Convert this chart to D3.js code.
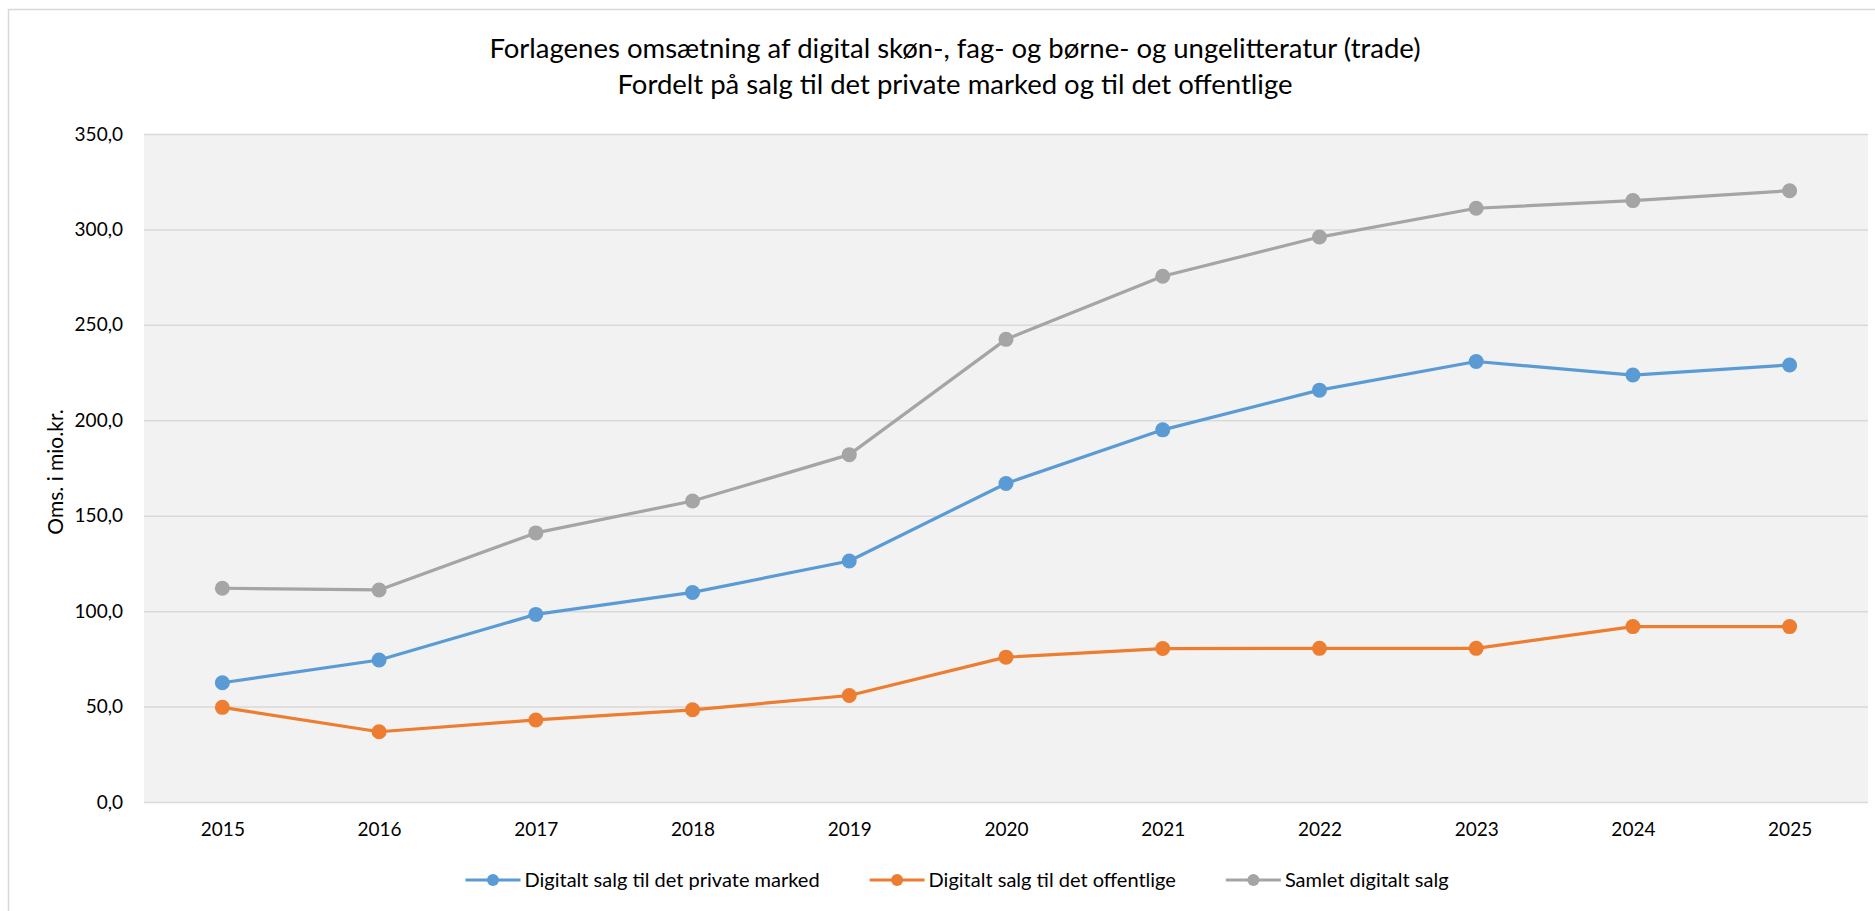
<!DOCTYPE html>
<html>
<head>
<meta charset="utf-8">
<script src="https://cdn.jsdelivr.net/npm/d3@7"></script>
<style>
  body { margin: 0; background: #ffffff; }
  svg { display: block; font-family: Lato, "Noto Sans", sans-serif; }
</style>
</head>
<body>
<svg id="chart" width="1875" height="911"></svg>
<script>
// Years on the category axis
const years = ["2015", "2016", "2017", "2018", "2019", "2020", "2021", "2022", "2023", "2024", "2025"];

// Turnover in mio. kr.
const privateSales = [62.5, 74.4, 98.3, 109.8, 126.3, 166.9, 195.0, 215.8, 230.8, 223.7, 229.0];
const publicSales  = [49.6, 36.8, 43.0, 48.3, 55.8, 75.9, 80.4, 80.5, 80.5, 91.9, 91.9];
const totalSales   = [112.0, 111.1, 141.0, 157.7, 182.0, 242.4, 275.5, 296.0, 311.1, 315.1, 320.3];

const yTicks = [0, 50, 100, 150, 200, 250, 300, 350];

const seriesNames  = ["Digitalt salg til det private marked", "Digitalt salg til det offentlige", "Samlet digitalt salg"];
const seriesValues = [privateSales, publicSales, totalSales];
const seriesColors = ["#5B9BD5", "#ED7D31", "#A5A5A5"];

const titleLines = [
  "Forlagenes omsætning af digital skøn-, fag- og børne- og ungelitteratur (trade)",
  "Fordelt på salg til det private marked og til det offentlige"
];
const yAxisTitle = "Oms. i mio.kr.";

// Layout
const W = 1875, H = 911;
const plot = { left: 144, right: 1868, top: 134, bottom: 802 };
const centerX = 955;

const svg = d3.select("#chart");

// Chart frame
svg.append("rect")
  .attr("x", 8.5).attr("y", 9.5)
  .attr("width", W + 20).attr("height", H + 20)
  .attr("fill", "#ffffff")
  .attr("stroke", "#D9D9D9").attr("stroke-width", 1.5);

// Plot background
svg.append("rect")
  .attr("x", plot.left).attr("y", plot.top)
  .attr("width", plot.right - plot.left).attr("height", plot.bottom - plot.top)
  .attr("fill", "#F2F2F2");

const x = d3.scalePoint().domain(years).range([plot.left, plot.right]).padding(0.5);
const y = d3.scaleLinear().domain([0, 350]).range([plot.bottom, plot.top]);

// Y axis with gridlines
const fmt = d => d3.format(".1f")(d).replace(".", ",");
const yAxis = svg.append("g")
  .attr("transform", `translate(${plot.left},0)`)
  .call(d3.axisLeft(y).tickValues(yTicks).tickFormat(fmt)
        .tickSize(-(plot.right - plot.left)).tickPadding(21));
yAxis.select(".domain").remove();
yAxis.selectAll(".tick line").attr("stroke", "#D9D9D9").attr("stroke-width", 1.5);
yAxis.selectAll(".tick text")
  .attr("fill", "#000000").style("font-size", "19px").style("font-family", "Lato, sans-serif");

// X axis labels
const xAxis = svg.append("g")
  .attr("transform", `translate(0,${plot.bottom})`)
  .call(d3.axisBottom(x).tickSize(0).tickPadding(21));
xAxis.select(".domain").remove();
xAxis.selectAll(".tick text")
  .attr("fill", "#000000").style("font-size", "19px").style("font-family", "Lato, sans-serif");

// Y axis title
svg.append("text")
  .attr("transform", `translate(63,${(plot.top + plot.bottom) / 2 + 4}) rotate(-90)`)
  .attr("text-anchor", "middle")
  .attr("fill", "#000000")
  .style("font-size", "21px")
  .text(yAxisTitle);

// Title
svg.append("text")
  .attr("x", centerX).attr("y", 58)
  .attr("text-anchor", "middle").attr("fill", "#000000")
  .style("font-size", "27.5px")
  .text(titleLines[0]);
svg.append("text")
  .attr("x", centerX).attr("y", 94)
  .attr("text-anchor", "middle").attr("fill", "#000000")
  .style("font-size", "27.5px")
  .text(titleLines[1]);

// Series lines and markers
const line = d3.line().x((d, i) => x(years[i])).y(d => y(d));
seriesValues.forEach((vals, s) => {
  const g = svg.append("g");
  g.append("path")
    .datum(vals)
    .attr("d", line)
    .attr("fill", "none")
    .attr("stroke", seriesColors[s])
    .attr("stroke-width", 3.2)
    .attr("stroke-linejoin", "round")
    .attr("stroke-linecap", "round");
  g.selectAll("circle")
    .data(vals)
    .join("circle")
    .attr("cx", (d, i) => x(years[i]))
    .attr("cy", d => y(d))
    .attr("r", 7.5)
    .attr("fill", seriesColors[s]);
});

// Legend
const legendY = 880;
const legendCenter = 957;
const legend = svg.append("g");
const items = legend.selectAll("g").data(seriesNames).join("g");
items.append("line")
  .attr("x1", 0).attr("x2", 55).attr("y1", 0).attr("y2", 0)
  .attr("stroke", (d, i) => seriesColors[i]).attr("stroke-width", 3.2);
items.append("circle")
  .attr("cx", 27.5).attr("cy", 0).attr("r", 6)
  .attr("fill", (d, i) => seriesColors[i]);
items.append("text")
  .attr("x", 59).attr("y", 0).attr("dy", "0.35em")
  .attr("fill", "#000000")
  .style("font-size", "20px")
  .text(d => d);
const widths = [];
items.each(function () { widths.push(59 + d3.select(this).select("text").node().getComputedTextLength()); });
const gap = 50;
const total = d3.sum(widths) + gap * (widths.length - 1);
let cursor = legendCenter - total / 2;
items.attr("transform", (d, i) => {
  const tx = cursor;
  cursor += widths[i] + gap;
  return `translate(${tx},${legendY})`;
});
</script>
</body>
</html>
